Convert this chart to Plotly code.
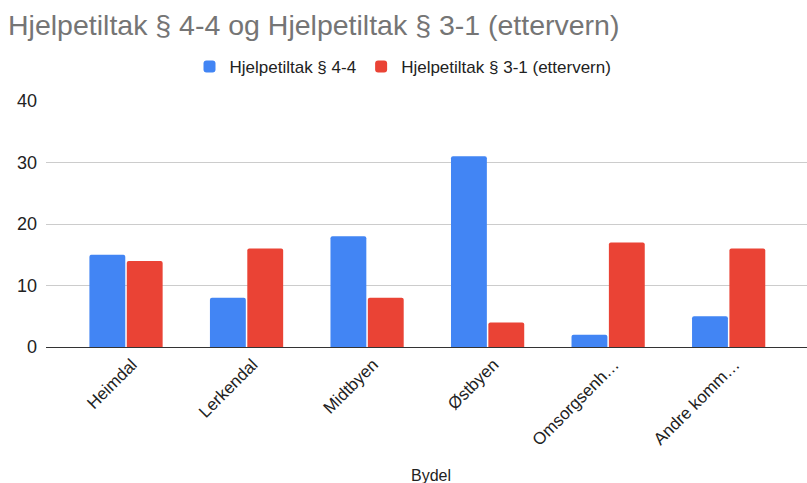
import plotly.graph_objects as go

categories = ["Heimdal", "Lerkendal", "Midtbyen", "Østbyen", "Omsorgsenh…", "Andre komm…"]
series_names = ["Hjelpetiltak § 4-4", "Hjelpetiltak § 3-1 (ettervern)"]
values_44 = [15, 8, 18, 31, 2, 5]
values_31 = [14, 16, 8, 4, 17, 16]
y_ticks = [0, 10, 20, 30, 40]

W, H = 807, 483
FONT = "Arial, 'Liberation Sans', sans-serif"
PLOT_TOP, PLOT_BOTTOM, PLOT_LEFT = 101, 347, 46
PH = PLOT_BOTTOM - PLOT_TOP
PW = W - PLOT_LEFT

fig = go.Figure()
fig.add_trace(go.Bar(name=series_names[0], x=list(range(len(categories))), y=values_44,
                     marker=dict(color="#4285F4", line=dict(width=0))))
fig.add_trace(go.Bar(name=series_names[1], x=list(range(len(categories))), y=values_31,
                     marker=dict(color="#EA4335", line=dict(width=0))))

fig.update_layout(
    width=W, height=H,
    margin=dict(l=PLOT_LEFT, r=0, t=PLOT_TOP, b=H - PLOT_BOTTOM, autoexpand=False),
    paper_bgcolor="white", plot_bgcolor="white",
    font=dict(family=FONT, size=16, color="#222222"),
    title=dict(text="Hjelpetiltak § 4-4 og Hjelpetiltak § 3-1 (ettervern)",
               x=8 / W, xanchor="left", y=1 - 25 / H, yanchor="middle",
               font=dict(family=FONT, size=28.5, color="#757575")),
    barmode="group", bargap=0.38, bargroupgap=0.04, barcornerradius=2,
    showlegend=True,
    legend=dict(orientation="h", x=0.5 + (403 - (PLOT_LEFT + PW / 2)) / PW, xanchor="center",
                y=1 + (PLOT_TOP - 67) / PH, yanchor="middle",
                font=dict(family=FONT, size=17, color="#222222"),
                itemwidth=30, traceorder="normal"),
    xaxis=dict(
        tickmode="array", tickvals=list(range(len(categories))), ticktext=categories,
        range=[-0.664, 5.65], tickangle=-45, showgrid=False, showline=True,
        linecolor="#333333", linewidth=1, ticks="", zeroline=False,
        tickfont=dict(family=FONT, size=17, color="#222222"), ticklabelshift=6,
    ),
    yaxis=dict(
        range=[0, 40], tickmode="array", tickvals=y_ticks, showgrid=True,
        gridcolor="#CCCCCC", gridwidth=1, zeroline=False, showline=False, ticks="",
        tickfont=dict(family=FONT, size=18, color="#222222"), ticklabelstandoff=8,
    ),
    annotations=[dict(text="Bydel", xref="paper", yref="paper",
                      x=(431 - PLOT_LEFT) / PW, y=(PLOT_BOTTOM - 475) / PH,
                      xanchor="center", yanchor="middle", showarrow=False,
                      font=dict(family=FONT, size=16, color="#222222"))],
)

fig.write_html("out.html", config={"displayModeBar": False},
               post_script="document.body.style.margin='0';document.body.style.padding='0';")
